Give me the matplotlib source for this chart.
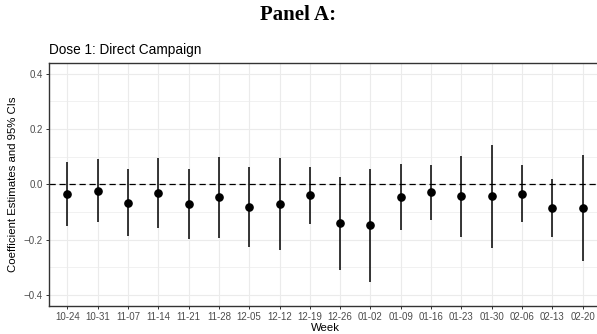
import numpy as np
import matplotlib.pyplot as plt

plt.rcParams['font.family'] = ['Liberation Sans', 'DejaVu Sans']

# weekly coefficient estimates with 95% confidence bounds
weeks = ['10-24', '10-31', '11-07', '11-14', '11-21', '11-28', '12-05', '12-12', '12-19',
         '12-26', '01-02', '01-09', '01-16', '01-23', '01-30', '02-06', '02-13', '02-20']
est = [-0.033, -0.022, -0.067, -0.031, -0.070, -0.046, -0.083, -0.070, -0.039,
       -0.140, -0.148, -0.046, -0.028, -0.043, -0.042, -0.033, -0.085, -0.086]
lo = [-0.151, -0.136, -0.187, -0.156, -0.196, -0.192, -0.227, -0.237, -0.144,
      -0.308, -0.353, -0.165, -0.127, -0.190, -0.229, -0.137, -0.190, -0.278]
hi = [0.082, 0.091, 0.056, 0.096, 0.055, 0.100, 0.064, 0.095, 0.064,
      0.028, 0.057, 0.073, 0.071, 0.103, 0.144, 0.069, 0.020, 0.105]

W, H = 597, 334
fig = plt.figure(figsize=(W / 100, H / 100), dpi=100)
# panel runs past the right edge of the figure
ax = fig.add_axes([49 / W, 1 - 305.5 / H, 552 / W, 243 / H])

x = np.arange(len(weeks))
ax.vlines(x, lo, hi, color='black', lw=1.1, zorder=3)
ax.plot(x, est, 'o', color='black', ms=5.2, zorder=4)
ax.axhline(0, color='black', lw=0.9, ls=(0, (5, 3)), zorder=2)

ax.set_xlim(-0.6, len(weeks) - 0.4)
ax.set_ylim(-0.4376, 0.441)
ax.set_xticks(x)
ax.set_xticklabels(weeks)
ax.set_yticks([-0.4, -0.2, 0.0, 0.2, 0.4])
ax.set_yticklabels(['\u22120.4', '\u22120.2', '0.0', '0.2', '0.4'])
ax.set_yticks([-0.3, -0.1, 0.1, 0.3], minor=True)

ax.grid(True, which='major', color='#EBEBEB', lw=0.8, zorder=0)
ax.grid(True, which='minor', axis='y', color='#EBEBEB', lw=0.5, zorder=0)
ax.set_axisbelow(True)

for s in ax.spines.values():
    s.set_color('#333333')
    s.set_linewidth(1.0)
ax.spines['right'].set_visible(False)

ax.tick_params(which='major', length=2.5, width=0.7, color='#333333',
               labelsize=7.0, labelcolor='#4D4D4D', pad=2)
ax.tick_params(which='minor', length=0)

ax.set_xlabel('Week', fontsize=8.2, labelpad=1)
ax.set_ylabel('Coefficient Estimates and 95% CIs', fontsize=8.2, labelpad=4)

fig.text(49 / W, 1 - 54 / H, 'Dose 1: Direct Campaign', fontsize=9.8, ha='left', va='baseline')
fig.text(0.5, 1 - 15 / H, 'Panel A:', fontsize=15, fontweight='bold',
         family='Liberation Serif', ha='center', va='center')

fig.savefig('out.png', dpi=100)
